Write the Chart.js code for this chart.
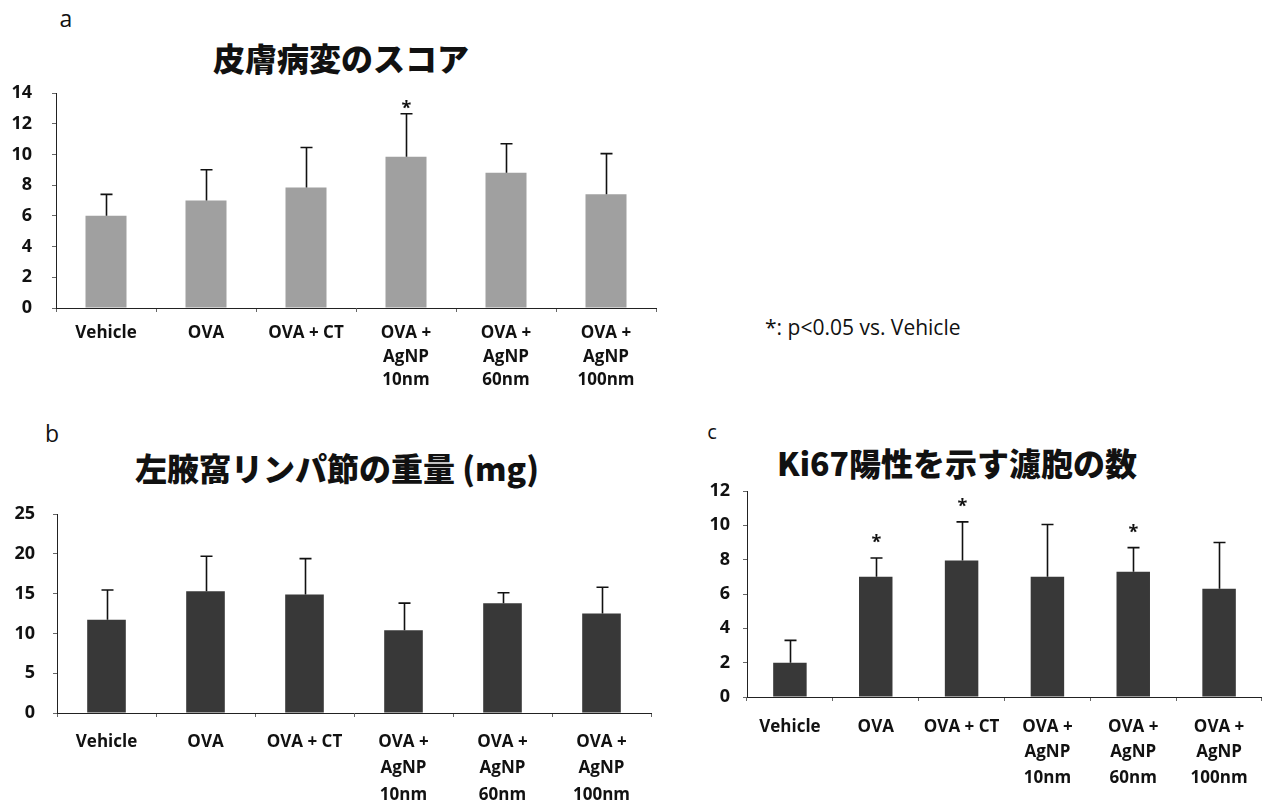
<!DOCTYPE html>
<html lang="ja">
<head>
<meta charset="utf-8">
<script src="https://cdn.jsdelivr.net/npm/chart.js@4.4.1/dist/chart.umd.min.js"></script>
<style>
  html, body { margin: 0; padding: 0; background: #fff; }
  body { width: 1262px; height: 805px; position: relative; overflow: hidden; }
  canvas { position: absolute; }
  .txt { position: absolute; transform: translate(-50%, -50%); line-height: 1; white-space: nowrap; color: #111; }
  .panel { font-family: "Open Sans", sans-serif; font-size: 23px; }
  .title { font-family: "Noto Sans CJK JP", sans-serif; font-weight: 900; font-size: 32px; }
  .note { position: absolute; font-family: "Open Sans", sans-serif; font-size: 21px; line-height: 1; color: #111; transform: translateY(-50%); }
</style>
</head>
<body>
<div class="txt panel" style="left:66px; top:18px;">a</div>
<div class="txt title" style="left:341px; top:57px;">皮膚病変のスコア</div>
<div class="note" style="left:765px; top:327px;">*: p&lt;0.05 vs. Vehicle</div>
<div class="txt panel" style="left:52px; top:433px;">b</div>
<div class="txt title" style="left:337px; top:467px;">左腋窩リンパ節の重量 (mg)</div>
<div class="txt panel" style="left:712px; top:432px; font-size:20px;">c</div>
<div class="txt title" style="left:957px; top:462px;">Ki67陽性を示す濾胞の数</div>

<canvas id="chartA" width="680" height="400" style="left:0px; top:0px;"></canvas>
<canvas id="chartB" width="674" height="395" style="left:0px; top:410px;"></canvas>
<canvas id="chartC" width="572" height="395" style="left:690px; top:410px;"></canvas>

<script>
// Treatment groups (multi-line axis labels)
const groups = [
  ['Vehicle'],
  ['OVA'],
  ['OVA + CT'],
  ['OVA +', 'AgNP', '10nm'],
  ['OVA +', 'AgNP', '60nm'],
  ['OVA +', 'AgNP', '100nm']
];

// a: skin lesion score (mean, SD)
const skinScore   = [6.0, 7.0, 7.85, 9.85, 8.8, 7.4];
const skinScoreSD = [1.4, 2.0, 2.6, 2.8, 1.9, 2.65];
const skinSig     = [false, false, false, true, false, false];
const skinTicks   = [0, 2, 4, 6, 8, 10, 12, 14];

// b: left axillary lymph node weight (mg)
const nodeWeight   = [11.7, 15.3, 14.9, 10.4, 13.8, 12.5];
const nodeWeightSD = [3.75, 4.4, 4.5, 3.4, 1.3, 3.3];
const nodeSig      = [false, false, false, false, false, false];
const nodeTicks    = [0, 5, 10, 15, 20, 25];

// c: number of Ki67-positive follicles
const ki67Count   = [2.0, 7.0, 7.95, 7.0, 7.3, 6.3];
const ki67CountSD = [1.3, 1.1, 2.25, 3.05, 1.4, 2.7];
const ki67Sig     = [false, true, true, false, true, false];
const ki67Ticks   = [0, 2, 4, 6, 8, 10, 12];

const LABEL_FONT = '"Open Sans", Lato, sans-serif';

// Upper error bars with caps, plus significance asterisks
const errorBars = {
  id: 'errorBars',
  afterDatasetsDraw(chart, args, opts) {
    const ctx = chart.ctx;
    const yScale = chart.scales.y;
    const meta = chart.getDatasetMeta(0);
    ctx.save();
    ctx.strokeStyle = '#111';
    ctx.lineWidth = 1.6;
    meta.data.forEach((bar, i) => {
      const top = yScale.getPixelForValue(opts.means[i] + opts.sd[i]);
      const x = Math.round(bar.x) + 0.5;
      ctx.beginPath();
      ctx.moveTo(x, bar.y);
      ctx.lineTo(x, top);
      ctx.moveTo(x - opts.cap / 2, top);
      ctx.lineTo(x + opts.cap / 2, top);
      ctx.stroke();
      if (opts.sig[i]) {
        ctx.fillStyle = '#111';
        ctx.font = 'bold 18px ' + LABEL_FONT;
        ctx.textAlign = 'center';
        ctx.textBaseline = 'middle';
        ctx.fillText('*', x, top - opts.starGap);
      }
    });
    ctx.restore();
  }
};

function makeChart(id, cfg) {
  const axisBorder = { display: true, color: '#222', width: 1, dash: [2, 2] };
  const tickGrid = { display: true, drawOnChartArea: false, drawTicks: true, tickLength: 4, color: '#666' };
  return new Chart(document.getElementById(id), {
    type: 'bar',
    data: {
      labels: groups,
      datasets: [{
        data: cfg.values,
        backgroundColor: cfg.color,
        borderWidth: 0,
        barPercentage: cfg.barPct,
        categoryPercentage: 1.0
      }]
    },
    options: {
      responsive: false,
      animation: false,
      devicePixelRatio: 1,
      layout: { padding: cfg.padding },
      plugins: {
        legend: { display: false },
        tooltip: { enabled: false },
        errorBars: { means: cfg.values, sd: cfg.sd, sig: cfg.sig, cap: 12, starGap: cfg.starGap }
      },
      scales: {
        x: {
          border: axisBorder,
          grid: Object.assign({ offset: true }, tickGrid),
          ticks: {
            color: '#111',
            font: { family: LABEL_FONT, size: 17, weight: 'bold', lineHeight: cfg.lineHeight },
            padding: cfg.xPad,
            maxRotation: 0,
            autoSkip: false
          },
          afterFit: s => { s.height = cfg.xHeight; }
        },
        y: {
          min: 0,
          max: cfg.ticks[cfg.ticks.length - 1],
          border: axisBorder,
          grid: tickGrid,
          afterBuildTicks: s => { s.ticks = cfg.ticks.map(v => ({ value: v })); },
          ticks: {
            color: '#111',
            font: { family: LABEL_FONT, size: 18, weight: 'bold' },
            padding: cfg.yPad
          },
          afterFit: s => { s.width = cfg.yWidth; }
        }
      }
    },
    plugins: [errorBars]
  });
}

makeChart('chartA', {
  values: skinScore, sd: skinScoreSD, sig: skinSig, ticks: skinTicks,
  color: '#a0a0a0', barPct: 0.41, starGap: 5,
  padding: { top: 93, right: 24, bottom: 0, left: 0 },
  yWidth: 56, xHeight: 92, yPad: 20, xPad: 9, lineHeight: 1.4
});

makeChart('chartB', {
  values: nodeWeight, sd: nodeWeightSD, sig: nodeSig, ticks: nodeTicks,
  color: '#383838', barPct: 0.39, starGap: 5,
  padding: { top: 104, right: 23, bottom: 0, left: 0 },
  yWidth: 57, xHeight: 92, yPad: 18, xPad: 12, lineHeight: 1.55
});

makeChart('chartC', {
  values: ki67Count, sd: ki67CountSD, sig: ki67Sig, ticks: ki67Ticks,
  color: '#383838', barPct: 0.39, starGap: 15,
  padding: { top: 81, right: 0, bottom: 0, left: 0 },
  yWidth: 57, xHeight: 108, yPad: 13, xPad: 13, lineHeight: 1.5
});
</script>
</body>
</html>
